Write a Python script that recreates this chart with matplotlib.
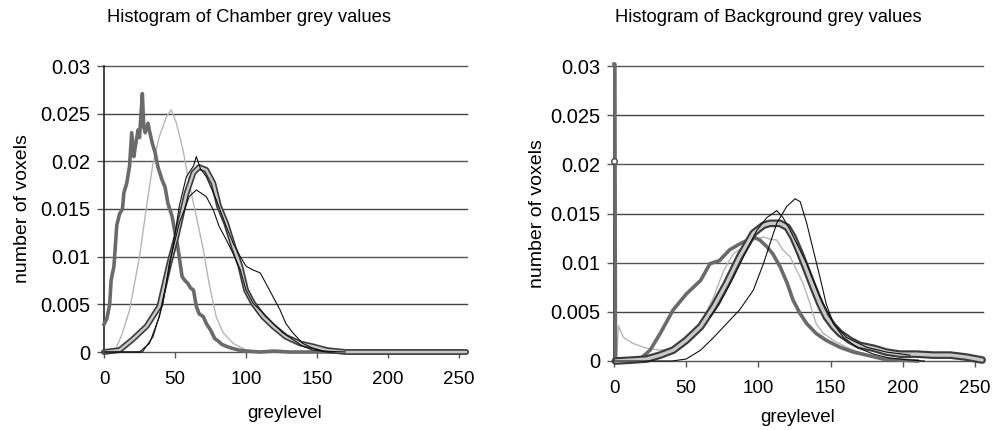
import matplotlib
matplotlib.use("Agg")
import matplotlib.pyplot as plt

plt.rcParams['font.family'] = ['Liberation Sans', 'DejaVu Sans']

# ---------------- data: Chamber (left) ----------------
ch_thick_x = [0, 2, 4, 5, 7, 9, 11, 13, 14, 16, 18, 19.5, 21, 22, 24, 25, 27, 28, 29, 31, 32, 34, 36, 38,
              41, 43, 45, 48, 50, 52, 54, 55, 57, 59, 61, 63, 65, 67, 70, 72, 75, 78, 80, 83, 86, 90, 95,
              100, 110, 120, 130, 150, 200, 255]
ch_thick_y = [0.0029, 0.0035, 0.005, 0.0075, 0.009, 0.0133, 0.0145, 0.0150, 0.0167, 0.0177, 0.0195, 0.0230,
              0.0205, 0.0215, 0.0233, 0.0225, 0.0271, 0.0236, 0.0230, 0.0240, 0.0232, 0.0219, 0.0209, 0.0194,
              0.0180, 0.0173, 0.0156, 0.0142, 0.0125, 0.0110, 0.0089, 0.0079, 0.0075, 0.0072, 0.0067, 0.0065,
              0.0048, 0.0040, 0.0037, 0.0030, 0.0023, 0.0014, 0.0012, 0.0008, 0.0006, 0.0004, 0.0002,
              0.0001, 0.0, 0.0001, 0.0, 0.0, 0.0, 0.0]

ch_light_x = [0, 7.5, 13, 18, 25, 30, 34.5, 39, 44, 47.4, 51, 55.6, 60, 65, 70, 74, 79, 84, 91, 100, 120, 200, 255]
ch_light_y = [0.0, 0.0, 0.002, 0.0044, 0.010, 0.0153, 0.0198, 0.0226, 0.0247, 0.0254, 0.0240, 0.0212, 0.0177,
              0.0142, 0.0107, 0.0072, 0.0037, 0.0020, 0.0009, 0.0002, 0.0, 0.0, 0.0]

ch_circ_x = [0, 11, 20, 30, 39, 46, 51, 58, 63, 67, 72, 77, 81, 86, 91, 96, 100, 105, 112, 119, 128, 138,
             147, 157, 170, 200, 230, 255]
ch_circ_y = [0.0, 0.0002, 0.0013, 0.0027, 0.0048, 0.0093, 0.0121, 0.0166, 0.0188, 0.0194, 0.0191, 0.0177,
             0.0153, 0.0135, 0.0111, 0.0090, 0.0065, 0.0051, 0.0037, 0.0027, 0.0016, 0.0009, 0.0006, 0.0002,
             0.0, 0.0, 0.0, 0.0]

ch_blackA_x = [0, 25, 32, 39, 44, 49, 53, 58, 63, 65, 68, 72, 79, 86, 91, 96, 100, 105, 110, 114, 119, 124,
               128, 133, 140, 147, 154, 170]
ch_blackA_y = [0.0, 0.0, 0.0009, 0.0037, 0.0072, 0.0114, 0.0153, 0.0184, 0.0195, 0.0205, 0.0192, 0.0184,
               0.0160, 0.0132, 0.0114, 0.0100, 0.0090, 0.0086, 0.0083, 0.0072, 0.0058, 0.0044, 0.0030,
               0.0020, 0.0009, 0.0004, 0.0001, 0.0]

ch_blackB_x = [0, 27, 34.5, 41.5, 46, 53, 60, 65, 72, 77, 81, 86, 91, 96, 100, 105, 112, 119, 126, 133,
               140, 147, 160]
ch_blackB_y = [0.0, 0.0, 0.0016, 0.0051, 0.0093, 0.0135, 0.0163, 0.0170, 0.0163, 0.0149, 0.0132, 0.0118,
               0.0103, 0.0086, 0.0065, 0.0051, 0.0041, 0.0030, 0.0020, 0.0013, 0.0006, 0.0002, 0.0]

# ---------------- data: Background (right) ----------------
bg_thick_x = [0, 0.6, 1, 10, 18, 25, 32, 41, 50, 60, 66.5, 73, 80, 87, 97, 101, 106, 110, 115, 120, 124,
              129, 133.5, 140, 147, 156.5, 166, 175, 186.6, 198, 210]
bg_thick_y = [0.0302, 0.0302, 0.0002, 0.0001, 0.0002, 0.0011, 0.0028, 0.0052, 0.0068, 0.0082, 0.0099,
              0.0102, 0.0113, 0.0119, 0.0126, 0.0123, 0.0116, 0.0109, 0.0096, 0.0079, 0.0062, 0.0048,
              0.0038, 0.0028, 0.0021, 0.0014, 0.0009, 0.0006, 0.0002, 0.0001, 0.0]

bg_light_x = [2, 3, 6.5, 13, 22.6, 32, 41, 50, 60, 69, 76, 82.7, 89.6, 96.5, 103.5, 108, 112.7, 117, 122,
              126.6, 131, 135.8, 140, 145, 152, 161, 170, 182, 198, 210]
bg_light_y = [0.0005, 0.0036, 0.0024, 0.0018, 0.0013, 0.0011, 0.0013, 0.0021, 0.0038, 0.0065, 0.0092,
              0.0109, 0.0116, 0.0123, 0.0126, 0.0124, 0.0123, 0.0113, 0.0106, 0.0092, 0.0079, 0.0058,
              0.0038, 0.0028, 0.0021, 0.0014, 0.0009, 0.0004, 0.0001, 0.0]

bg_circ_x = [0, 1, 13, 22.6, 32, 41, 50, 60, 69, 78, 87, 96.5, 103.5, 108, 115, 120, 124, 129, 133.5, 138,
             142.7, 147, 152, 156.6, 163.5, 170, 179.7, 189, 198, 209.7, 221, 233, 244, 255]
bg_circ_y = [0.0203, 0.0, 0.0001, 0.0002, 0.0006, 0.0011, 0.0021, 0.0035, 0.0055, 0.0079, 0.0106, 0.0130,
             0.0138, 0.0140, 0.0140, 0.0136, 0.0126, 0.0109, 0.0092, 0.0075, 0.0058, 0.0045, 0.0035,
             0.0028, 0.0021, 0.0016, 0.0013, 0.0009, 0.0007, 0.0007, 0.0006, 0.0006, 0.0004, 0.0001]

bg_blackC_x = [0, 40, 50, 60, 69, 78, 87, 96.5, 103.5, 108, 112.7, 119.6, 125.4, 129, 133.5, 138, 142.7,
               147, 152, 159, 168, 179.7, 191, 205, 215]
bg_blackC_y = [0.0, 0.0, 0.0002, 0.0011, 0.0024, 0.0038, 0.0052, 0.0072, 0.0099, 0.0119, 0.0140, 0.0157,
               0.0165, 0.0162, 0.0140, 0.0113, 0.0085, 0.0058, 0.0038, 0.0024, 0.0014, 0.0007, 0.0003,
               0.0001, 0.0]

bg_blackD_x = [66.5, 73, 82.7, 92, 99, 106, 110, 112.7, 117, 122, 133.5, 142.7, 152, 161, 175, 189, 205]
bg_blackD_y = [0.0045, 0.0058, 0.0085, 0.0113, 0.0133, 0.0146, 0.0150, 0.0153, 0.0146, 0.0133, 0.0099,
               0.0065, 0.0038, 0.0024, 0.0014, 0.0009, 0.0006]

yticks = [0, 0.005, 0.01, 0.015, 0.02, 0.025, 0.03]
ytick_labels = ['0', '0.005', '0.01', '0.015', '0.02', '0.025', '0.03']
xticks = [0, 50, 100, 150, 200, 250]
titles = ['Histogram of Chamber grey values', 'Histogram of Background grey values']

fig = plt.figure(figsize=(9.97, 4.30), dpi=100)
W, H = 997, 430
axL = fig.add_axes([104 / W, 1 - 352 / H, (467 - 104) / W, (352 - 66) / H])
axR = fig.add_axes([614 / W, 1 - 361 / H, (983 - 614) / W, (361 - 66) / H])


def style(ax):
    ax.set_xlim(0, 255.6)
    ax.set_ylim(0, 0.03)
    ax.set_yticks(yticks)
    ax.set_yticklabels(ytick_labels)
    ax.set_xticks(xticks)
    ax.tick_params(axis='both', colors='#555555', labelcolor='black',
                   length=5, width=1, direction='out')
    ax.tick_params(axis='y', pad=5, labelsize=14.5)
    ax.tick_params(axis='x', length=4, pad=10, labelsize=13.5)
    for s in ['top', 'right', 'bottom']:
        ax.spines[s].set_visible(False)
    ax.spines['left'].set_color('#222222')
    ax.spines['left'].set_linewidth(1.2)
    for yv in yticks:
        ax.axhline(yv, color='#444444' if yv in (0.005, 0.015, 0.025) else '#555555',
                   lw=1.0, zorder=0.5, clip_on=False)
    ax.set_ylabel('number of voxels', fontsize=14)
    ax.set_xlabel('greylevel', fontsize=13.5)


def tube(ax, x, y, outer, inner):
    ax.plot(x, y, color='#3c3c3c', lw=outer, zorder=4, clip_on=False, solid_capstyle='round')
    ax.plot(x, y, color='#c8c8c8', lw=inner, zorder=4.1, clip_on=False, solid_capstyle='round')


# left chart
style(axL)
axL.plot(ch_light_x, ch_light_y, color='#b5b5b5', lw=1.0, zorder=3, clip_on=False)
axL.plot(ch_thick_x, ch_thick_y, color='#6a6a6a', lw=2.6, zorder=3.5, clip_on=False)
axL.plot(ch_blackB_x, ch_blackB_y, color='#111111', lw=0.8, zorder=5, clip_on=False)
tube(axL, ch_circ_x, ch_circ_y, 4.2, 1.8)
axL.plot(ch_blackA_x, ch_blackA_y, color='#111111', lw=0.8, zorder=5, clip_on=False)

# right chart
style(axR)
axR.plot(bg_light_x, bg_light_y, color='#b5b5b5', lw=1.0, zorder=3, clip_on=False)
axR.plot(bg_thick_x, bg_thick_y, color='#6a6a6a', lw=2.6, zorder=3.5, clip_on=False)
axR.plot(bg_blackD_x, bg_blackD_y, color='#111111', lw=0.8, zorder=5, clip_on=False)
tube(axR, bg_circ_x[1:], bg_circ_y[1:], 5.5, 2.4)
axR.plot(bg_circ_x[0], bg_circ_y[0], 'o', ms=4, mfc='white', mec='#444444', mew=1, zorder=6, clip_on=False)
axR.plot(bg_blackC_x, bg_blackC_y, color='#111111', lw=0.8, zorder=5, clip_on=False)

# label positions
axL.xaxis.set_label_coords((285 - 104) / (467 - 104), -(413 - 352) / (352 - 66))
axL.yaxis.set_label_coords(-(104 - 23) / (467 - 104), 0.5)
axR.xaxis.set_label_coords((798 - 614) / (983 - 614), -(417 - 361) / (361 - 66))
axR.yaxis.set_label_coords(-(614 - 537) / (983 - 614), 0.5)
for lab in (axL.xaxis.label, axR.xaxis.label, axL.yaxis.label, axR.yaxis.label):
    lab.set_verticalalignment('center')

fig.text(107 / W, 1 - 18 / H, titles[0], fontsize=13.2, ha='left', va='center')
fig.text(615 / W, 1 - 18 / H, titles[1], fontsize=13.2, ha='left', va='center')

fig.savefig('out.png', dpi=100)
